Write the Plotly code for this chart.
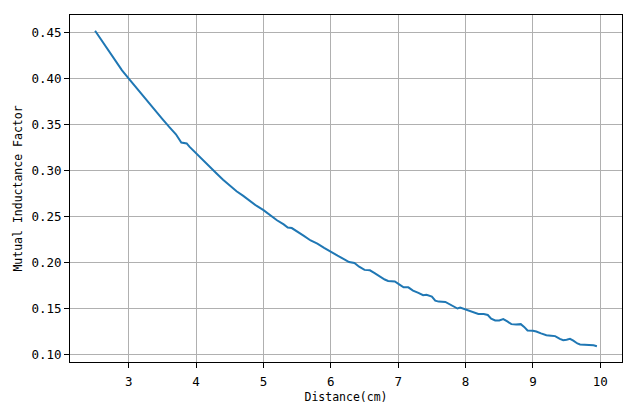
import plotly.graph_objects as go

distance_cm = [2.50, 2.60, 2.70, 2.80, 2.90, 3.00, 3.10, 3.20, 3.30, 3.40, 3.50, 3.60, 3.70, 3.78, 3.86, 3.90,
               4.00, 4.10, 4.20, 4.25, 4.30, 4.40, 4.50, 4.60, 4.70, 4.80, 4.90, 5.00, 5.10, 5.20, 5.30, 5.36,
               5.42, 5.50, 5.60, 5.70, 5.75, 5.80, 5.90, 6.00, 6.10, 6.20, 6.27, 6.35, 6.42, 6.50, 6.58, 6.65,
               6.72, 6.80, 6.85, 6.95, 7.02, 7.08, 7.15, 7.22, 7.30, 7.37, 7.42, 7.50, 7.55, 7.60, 7.70, 7.76,
               7.82, 7.88, 7.92, 7.98, 8.05, 8.12, 8.19, 8.27, 8.33, 8.38, 8.44, 8.50, 8.56, 8.62, 8.68, 8.75,
               8.82, 8.87, 8.92, 9.00, 9.05, 9.12, 9.20, 9.27, 9.33, 9.40, 9.45, 9.50, 9.55, 9.60, 9.66, 9.70,
               9.85, 9.90, 9.95]
mutual_factor = [0.452, 0.4415, 0.431, 0.4205, 0.409, 0.400, 0.391, 0.382, 0.373, 0.3645, 0.356, 0.3475, 0.3395, 0.3305, 0.3295, 0.326,
                 0.3185, 0.3115, 0.304, 0.300, 0.297, 0.290, 0.2835, 0.2775, 0.2725, 0.267, 0.2615, 0.257, 0.251, 0.246, 0.2415, 0.238,
                 0.2375, 0.234, 0.229, 0.224, 0.2225, 0.2205, 0.2160, 0.2115, 0.2075, 0.2035, 0.2005, 0.1995, 0.1955, 0.1920, 0.1915, 0.1885,
                 0.185, 0.1815, 0.180, 0.1795, 0.1760, 0.1730, 0.1730, 0.1695, 0.167, 0.1645, 0.1650, 0.1630, 0.1585, 0.1575, 0.1572, 0.1550,
                 0.1520, 0.1500, 0.1510, 0.1495, 0.1480, 0.1460, 0.1440, 0.1440, 0.1430, 0.1390, 0.1370, 0.1370, 0.1385, 0.1360, 0.1330, 0.1325,
                 0.1330, 0.1300, 0.1262, 0.1258, 0.1250, 0.1230, 0.1210, 0.1205, 0.1200, 0.1170, 0.1155, 0.1160, 0.1170, 0.1150, 0.1120, 0.1110,
                 0.1108, 0.1100, 0.1090]
x_ticks = [3, 4, 5, 6, 7, 8, 9, 10]
y_ticks = [0.10, 0.15, 0.20, 0.25, 0.30, 0.35, 0.40, 0.45]

xmin, xmax = min(distance_cm), max(distance_cm)
ymin, ymax = min(mutual_factor), max(mutual_factor)
xpad = 0.05 * (xmax - xmin)
ypad = 0.05 * (ymax - ymin)

FONT = "DejaVu Sans Mono"

fig = go.Figure(go.Scatter(x=distance_cm, y=mutual_factor, mode="lines",
                           line=dict(color="#1f77b4", width=2), showlegend=False))

axis_common = dict(showline=True, linecolor="black", linewidth=1, mirror=True,
                   ticks="outside", ticklen=5, tickwidth=1, tickcolor="black",
                   showgrid=True, gridcolor="#b0b0b0", gridwidth=1, zeroline=False,
                   tickfont=dict(family=FONT, size=12.5, color="black"))

fig.update_xaxes(range=[xmin - xpad, xmax + xpad], tickvals=x_ticks, ticklabelstandoff=3,
                 title=dict(text="Distance(cm)", font=dict(family=FONT, size=11.5, color="black"), standoff=4),
                 **axis_common)
fig.update_yaxes(range=[ymin - ypad, ymax + ypad], tickvals=y_ticks, tickformat=".2f",
                 title=dict(text="Mutual Inductance Factor", font=dict(family=FONT, size=11.5, color="black"), standoff=6),
                 **axis_common)

# page body has an 8px default margin; size the figure so the plot area lands where the reference has it
fig.update_layout(width=632, height=401, margin=dict(l=62, r=18, t=7, b=47),
                  paper_bgcolor="white", plot_bgcolor="white",
                  font=dict(family=FONT, color="black"))

fig.write_html("out.html")
